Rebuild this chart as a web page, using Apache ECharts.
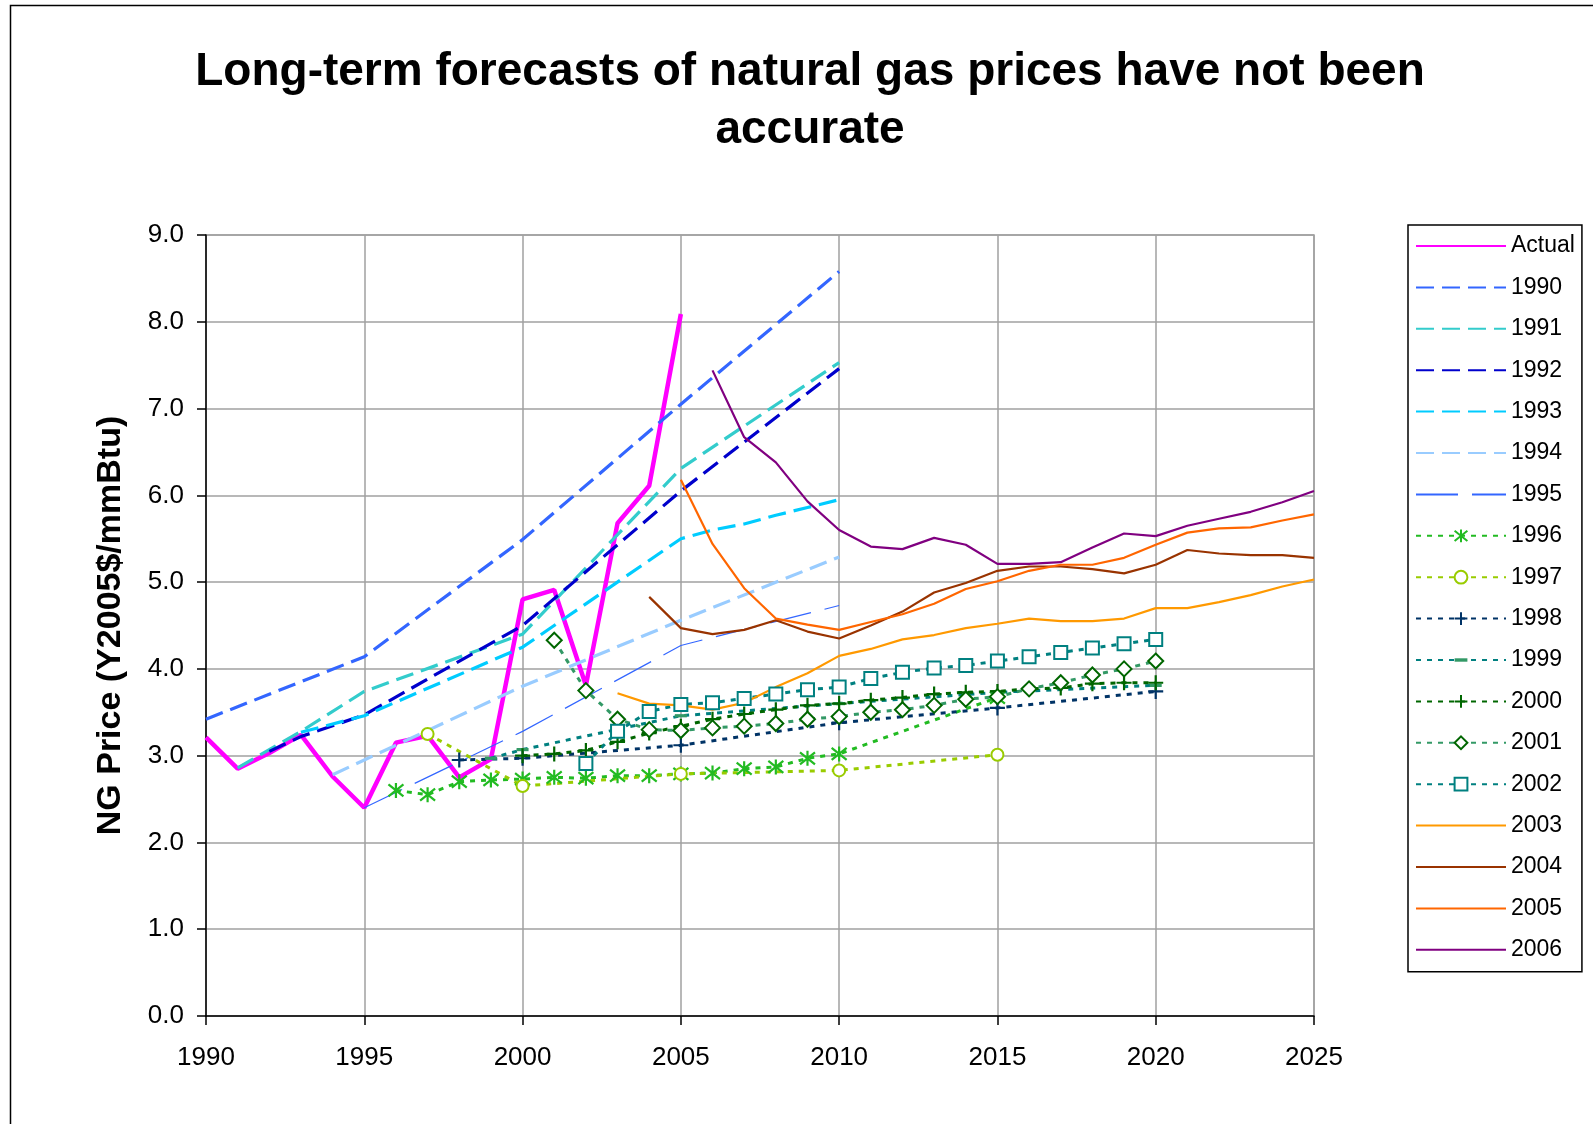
<!DOCTYPE html>
<html>
<head>
<meta charset="utf-8">
<title>Natural gas price forecasts</title>
<script src="https://cdn.jsdelivr.net/npm/echarts@6/dist/echarts.min.js"></script>
<style>
  html, body { margin: 0; padding: 0; background: #fff; }
  #chart { width: 1593px; height: 1124px; }
</style>
</head>
<body>
<div id="chart"></div>
<script>
// actual price, one value per year from 1990
const actualStart = 1990;
const actual = [3.21, 2.85, 3.03, 3.24, 2.76, 2.40, 3.15, 3.23, 2.75, 2.96, 4.80, 4.91, 3.81, 5.68, 6.11, 8.09];

// early forecasts, only a few years given
const f1990Years = [1990, 1995, 2000, 2005, 2010];
const f1990 = [3.42, 4.14, 5.49, 7.05, 8.58];
const f1991Years = [1991, 1993, 1995, 2000, 2005, 2010];
const f1991 = [2.86, 3.28, 3.74, 4.40, 6.31, 7.53];
const f1992Years = [1992, 1993, 1995, 2000, 2005, 2010];
const f1992 = [3.05, 3.22, 3.47, 4.50, 6.05, 7.46];
const f1993Years = [1993, 1995, 2000, 2005, 2006, 2007, 2008, 2009, 2010];
const f1993 = [3.27, 3.46, 4.25, 5.50, 5.60, 5.67, 5.77, 5.86, 5.95];
const f1994Years = [1994, 1995, 2000, 2005, 2010];
const f1994 = [2.78, 2.95, 3.80, 4.56, 5.29];
const f1995Years = [1995, 2000, 2005, 2010];
const f1995 = [2.40, 3.28, 4.27, 4.73];

const f1996Years = [1996, 1997, 1998, 1999, 2000, 2001, 2002, 2003, 2004, 2005, 2006, 2007, 2008, 2009, 2010, 2015];
const f1996 = [2.60, 2.55, 2.70, 2.72, 2.73, 2.75, 2.74, 2.77, 2.77, 2.79, 2.80, 2.85, 2.87, 2.97, 3.02, 3.67];
const f1997Years = [1997, 2000, 2005, 2010, 2015];
const f1997 = [3.25, 2.65, 2.79, 2.83, 3.01];
const f1998Years = [1998, 2000, 2005, 2010, 2015, 2020];
const f1998 = [2.95, 2.97, 3.12, 3.38, 3.55, 3.74];
const f1999Years = [1999, 2000, 2005, 2010, 2015, 2020];
const f1999 = [2.97, 3.07, 3.46, 3.60, 3.73, 3.81];

// later forecasts, one value per year from their start year
const f2000Start = 2000;
const f2000 = [3.00, 3.02, 3.06, 3.16, 3.26, 3.34, 3.42, 3.48, 3.53, 3.58, 3.60, 3.64, 3.67, 3.71, 3.73, 3.74, 3.77, 3.78, 3.83, 3.84, 3.84];
const f2001Start = 2001;
const f2001 = [4.33, 3.75, 3.42, 3.30, 3.29, 3.32, 3.34, 3.37, 3.42, 3.45, 3.50, 3.53, 3.58, 3.65, 3.68, 3.77, 3.84, 3.93, 4.00, 4.09];
const f2002Start = 2002;
const f2002 = [2.91, 3.28, 3.51, 3.59, 3.61, 3.66, 3.71, 3.76, 3.79, 3.89, 3.96, 4.01, 4.04, 4.09, 4.14, 4.19, 4.24, 4.29, 4.34];
const f2003Start = 2003;
const f2003 = [3.72, 3.60, 3.58, 3.53, 3.61, 3.79, 3.95, 4.15, 4.23, 4.34, 4.39, 4.47, 4.52, 4.58, 4.55, 4.55, 4.58, 4.70, 4.70, 4.77, 4.85, 4.95, 5.03];
const f2004Start = 2004;
const f2004 = [4.83, 4.47, 4.40, 4.45, 4.56, 4.43, 4.35, 4.50, 4.66, 4.88, 4.99, 5.13, 5.18, 5.18, 5.15, 5.10, 5.20, 5.37, 5.33, 5.31, 5.31, 5.28];
const f2005Start = 2005;
const f2005 = [6.18, 5.44, 4.93, 4.58, 4.51, 4.45, 4.54, 4.63, 4.75, 4.92, 5.01, 5.13, 5.20, 5.20, 5.28, 5.43, 5.57, 5.62, 5.63, 5.71, 5.78];
const f2006Start = 2006;
const f2006 = [7.44, 6.67, 6.38, 5.93, 5.60, 5.41, 5.38, 5.51, 5.43, 5.21, 5.21, 5.23, 5.40, 5.56, 5.53, 5.65, 5.73, 5.81, 5.92, 6.05];

const xTicks = [1990, 2025, 5];
const yTicks = [0, 9, 1];

const FONT = '"Liberation Sans", Arial, sans-serif';

function pairs(years, vals) {
    return years.map((y, i) => [y, vals[i]]);
}
function annual(start, vals) {
    return vals.map((v, i) => [start + i, v]);
}

// marker shapes
const ASTERISK = 'path://M0,-10L0,10M-8,-8L8,8M8,-8L-8,8';
const PLUS = 'path://M0,-10L0,10M-10,0L10,0';
const DASHMARK = 'path://M-6,-6L-6,-6M-6,-1.6H6V1.6H-6ZM6,6L6,6';

const DOT = [5, 6];
const DASH = [18, 8];

function plain(name, data, color, width, type) {
    return {
        name: name, type: 'line', data: data,
        symbol: 'none', showSymbol: false,
        lineStyle: { color: color, width: width, type: type || 'solid' },
        itemStyle: { color: color }
    };
}
function marked(name, data, lineColor, symbol, size, itemStyle) {
    return {
        name: name, type: 'line', data: data,
        symbol: symbol, symbolSize: size, showSymbol: true,
        lineStyle: { color: lineColor, width: 3, type: DOT },
        itemStyle: itemStyle
    };
}
function stroked(color) {
    return { color: 'rgba(0,0,0,0)', borderColor: color, borderWidth: 2.2 };
}

const series = [
    plain('Actual', annual(actualStart, actual), '#FF00FF', 4.5),
    plain('1990', pairs(f1990Years, f1990), '#3366FF', 3.2, DASH),
    plain('1991', pairs(f1991Years, f1991), '#33CCCC', 3.2, DASH),
    plain('1992', pairs(f1992Years, f1992), '#0000CC', 3.2, DASH),
    plain('1993', pairs(f1993Years, f1993), '#00CCFF', 3.2, DASH),
    plain('1994', pairs(f1994Years, f1994), '#99CCFF', 3.2, DASH),
    plain('1995', pairs(f1995Years, f1995), '#3366FF', 1.2, [42, 14]),
    marked('1996', pairs(f1996Years, f1996), '#22BB22', ASTERISK, 15, stroked('#22BB22')),
    marked('1997', pairs(f1997Years, f1997), '#99CC00', 'emptyCircle', 12,
        { color: '#99CC00', borderColor: '#99CC00', borderWidth: 2 }),
    marked('1998', pairs(f1998Years, f1998), '#003366', PLUS, 15, stroked('#003366')),
    marked('1999', pairs(f1999Years, f1999), '#008080', DASHMARK, 12, { color: '#339966' }),
    marked('2000', annual(f2000Start, f2000), '#006600', PLUS, 15, stroked('#006600')),
    marked('2001', annual(f2001Start, f2001), '#339966', 'emptyDiamond', 15,
        { color: '#006600', borderColor: '#006600', borderWidth: 2 }),
    marked('2002', annual(f2002Start, f2002), '#008080', 'emptyRect', 13,
        { color: '#008080', borderColor: '#008080', borderWidth: 2 }),
    plain('2003', annual(f2003Start, f2003), '#FF9900', 2.2),
    plain('2004', annual(f2004Start, f2004), '#993300', 2.2),
    plain('2005', annual(f2005Start, f2005), '#FF6600', 2.2),
    plain('2006', annual(f2006Start, f2006), '#800080', 2.2)
];

// legend entries: hide the fallback dot for lines without markers
const legendData = series.map(s => {
    if (s.symbol === 'none') {
        return { name: s.name, itemStyle: { opacity: 0 } };
    }
    return { name: s.name };
});

const chart = echarts.init(document.getElementById('chart'), null, { renderer: 'canvas' });
chart.setOption({
    animation: false,
    backgroundColor: '#fff',
    title: {
        text: 'Long-term forecasts of natural gas prices have not been\naccurate',
        left: 805,
        top: 38,
        textAlign: 'center',
        textStyle: {
            fontFamily: FONT, fontSize: 46, fontWeight: 'bold', color: '#000', lineHeight: 58
        }
    },
    grid: { left: 206, top: 235, right: 279, bottom: 108, show: true, borderColor: '#a0a0a0', borderWidth: 1.5 },
    legend: {
        orient: 'vertical',
        left: 1408,
        top: 225,
        data: legendData,
        itemWidth: 90,
        itemHeight: 16,
        itemGap: 17.4,
        padding: [9, 7, 10, 7],
        borderColor: '#000',
        borderWidth: 1.5,
        backgroundColor: '#fff',
        selectedMode: false,
        textStyle: { fontFamily: FONT, fontSize: 23, color: '#000', lineHeight: 24 }
    },
    xAxis: {
        type: 'value',
        min: xTicks[0], max: xTicks[1], interval: xTicks[2],
        axisLine: { show: true, onZero: false, lineStyle: { color: '#000', width: 1.5 } },
        axisTick: { show: true, length: 9, lineStyle: { color: '#000', width: 1.5 } },
        axisLabel: { fontFamily: FONT, fontSize: 26, color: '#000', margin: 29,
            formatter: v => String(v) },
        splitLine: { show: true, lineStyle: { color: '#a0a0a0', width: 1.5 } }
    },
    yAxis: {
        type: 'value',
        min: yTicks[0], max: yTicks[1], interval: yTicks[2],
        name: 'NG Price (Y2005$/mmBtu)',
        nameLocation: 'middle',
        nameGap: 78,
        nameTextStyle: { fontFamily: FONT, fontSize: 34, fontWeight: 'bold', color: '#000' },
        axisLine: { show: true, lineStyle: { color: '#000', width: 1.5 } },
        axisTick: { show: true, length: 9, lineStyle: { color: '#000', width: 1.5 } },
        axisLabel: { fontFamily: FONT, fontSize: 26, color: '#000', margin: 22,
            formatter: v => v.toFixed(1) },
        splitLine: { show: true, lineStyle: { color: '#a0a0a0', width: 1.5 } }
    },
    graphic: [{
        type: 'rect',
        shape: { x: 10.5, y: 5.5, width: 1700, height: 1300 },
        style: { fill: 'none', stroke: '#000', lineWidth: 1.5 },
        silent: true,
        z: -10
    }],
    series: series
});
</script>
</body>
</html>
